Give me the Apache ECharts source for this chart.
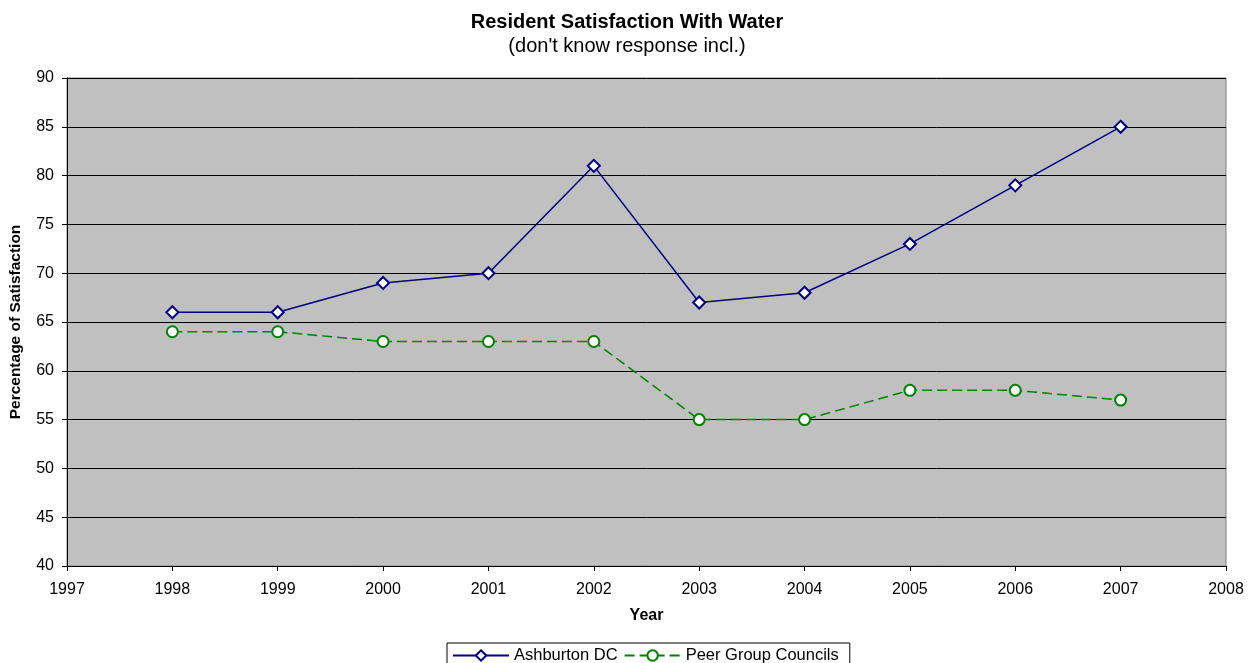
<!DOCTYPE html>
<html>
<head>
<meta charset="utf-8">
<script src="https://cdn.jsdelivr.net/npm/echarts@6/dist/echarts.min.js"></script>
<style>
  html, body { margin: 0; padding: 0; background: #ffffff; }
  #chart { width: 1254px; height: 663px; }
</style>
</head>
<body>
<div id="chart"></div>
<script>
// Survey years and satisfaction percentages
const years = [1998, 1999, 2000, 2001, 2002, 2003, 2004, 2005, 2006, 2007];
const ashburton = [66, 66, 69, 70, 81, 67, 68, 73, 79, 85];
const peerGroup = [64, 64, 63, 63, 63, 55, 55, 58, 58, 57];

const FONT = '"Liberation Sans", Arial, sans-serif';

const pairs = (xs, ys) => xs.map((x, i) => [x, ys[i]]);

const chart = echarts.init(document.getElementById('chart'), null, { renderer: 'canvas' });

chart.setOption({
  animation: false,
  backgroundColor: '#ffffff',
  title: {
    text: 'Resident Satisfaction With Water',
    subtext: "(don't know response incl.)",
    left: 'center',
    top: 7,
    itemGap: 4,
    textStyle: { fontFamily: FONT, fontSize: 20, fontWeight: 'bold', color: '#000' },
    subtextStyle: { fontFamily: FONT, fontSize: 20, color: '#000' }
  },
  grid: {
    left: 67, top: 78, width: 1159, height: 488,
    outerBoundsMode: 'none',
    containLabel: false,
    show: true,
    backgroundColor: '#c0c0c0',
    borderColor: '#808080',
    borderWidth: 1
  },
  legend: {
    top: 643,
    left: 447,
    itemWidth: 56,
    itemHeight: 13,
    itemGap: 6,
    padding: [4, 11, 5, 5],
    borderColor: '#000',
    borderWidth: 1,
    textStyle: { fontFamily: FONT, fontSize: 16.5, color: '#000' },
    data: ['Ashburton DC', 'Peer Group Councils']
  },
  xAxis: {
    type: 'value',
    min: 1997,
    max: 2008,
    interval: 1,
    name: 'Year',
    nameLocation: 'middle',
    nameGap: 42,
    nameTextStyle: { fontFamily: FONT, fontSize: 16, fontWeight: 'bold', color: '#000' },
    axisLine: { lineStyle: { color: '#000', width: 1 } },
    axisTick: { show: true, length: 5, lineStyle: { color: '#000' } },
    axisLabel: {
      fontFamily: FONT, fontSize: 16, color: '#000', margin: 16,
      formatter: v => String(v)
    },
    splitLine: { show: false }
  },
  yAxis: {
    type: 'value',
    min: 40,
    max: 90,
    interval: 5,
    name: 'Percentage of Satisfaction',
    nameLocation: 'middle',
    nameGap: 43,
    nameRotate: 90,
    nameTextStyle: { fontFamily: FONT, fontSize: 15.5, fontWeight: 'bold', color: '#000' },
    axisLine: { show: true, lineStyle: { color: '#000', width: 1 } },
    axisTick: { show: true, length: 5, lineStyle: { color: '#000' } },
    axisLabel: { fontFamily: FONT, fontSize: 16, color: '#000', margin: 13 },
    splitLine: { show: true, lineStyle: { color: '#000', width: 1 } }
  },
  series: [
    {
      name: 'Ashburton DC',
      type: 'line',
      data: pairs(years, ashburton),
      symbol: 'diamond',
      symbolSize: 12,
      color: '#000080',
      lineStyle: { color: '#000080', width: 1.5 },
      itemStyle: { color: '#ffffff', borderColor: '#000080', borderWidth: 2 },
      z: 3
    },
    {
      name: 'Peer Group Councils',
      type: 'line',
      data: pairs(years, peerGroup),
      symbol: 'circle',
      symbolSize: 11,
      color: '#008000',
      lineStyle: { color: '#008000', width: 1.5, type: [10, 5] },
      itemStyle: { color: '#ffffff', borderColor: '#008000', borderWidth: 2 },
      z: 2
    }
  ]
});
</script>
</body>
</html>
